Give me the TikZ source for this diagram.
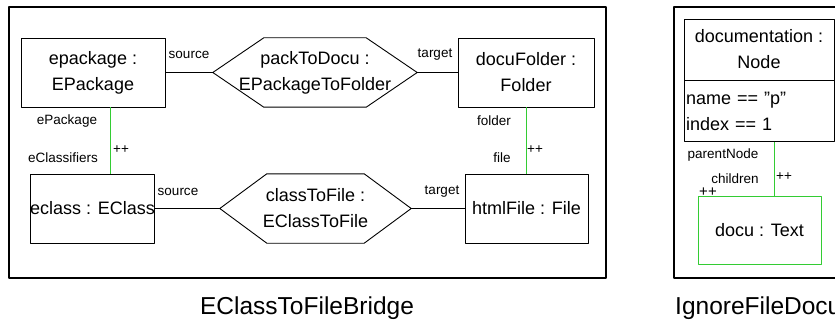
\documentclass[tikz,border=0pt]{standalone}
\usepackage{fontspec}
\setmainfont{Liberation Sans}
\usetikzlibrary{positioning}
\definecolor{linkgreen}{RGB}{51,204,51}
\begin{document}
\begin{tikzpicture}[x=1pt, y=-1pt, line join=round,
	obj/.style={draw, line width=0.9pt, inner sep=0pt, minimum height=69pt, align=center, font=\fontsize{18}{26}\selectfont},
	hexa/.style={inner sep=0pt, minimum height=69pt, align=center, font=\fontsize{18}{26}\selectfont},
	lbl/.style={inner sep=0pt, font=\fontsize{13.5}{15}\selectfont},
	link/.style={draw=linkgreen, line width=1pt},
	rule/.style={draw, line width=1.6pt},
	title/.style={inner sep=0pt, font=\fontsize{24.5}{26}\selectfont}]
	\useasboundingbox (0,0) rectangle (835,326);
	% rule frames
	\draw[rule] (9,7) rectangle (606,278);
	\draw[rule] (674,7) rectangle (870,278);
	% objects
	\node[obj, minimum width=144pt] (epack) at (93,72.5) {epackage :\\EPackage};
	\node[obj, minimum width=136pt] (dfold) at (526,72.5) {docuFolder :\\Folder};
	\node[obj, minimum width=123pt] (eclass) at (92.5,208.5) {eclass : EClass};
	\node[obj, minimum width=123pt] (hfile) at (526.5,208.5) {htmlFile : File};
	\node[hexa, minimum width=204pt] (p2d) at (315,72.5) {packToDocu :\\EPackageToFolder};
	\node[hexa, minimum width=191pt] (c2f) at (315.5,208.5) {classToFile :\\EClassToFile};
	\foreach \h/\d in {p2d/51,c2f/47}
	\draw[line width=0.9pt] (\h.west) -- ([xshift=\d pt]\h.north west) -- ([xshift=-\d pt]\h.north east) -- (\h.east) -- ([xshift=-\d pt]\h.south east) -- ([xshift=\d pt]\h.south west) -- cycle;
	\node[obj, minimum width=150pt, minimum height=61pt] (docnode) at (759,49.5) {documentation :\\Node};
	\node[obj, minimum width=150pt, minimum height=61pt, text width=146pt, align=left, below=0pt of docnode] (docattr) {name == \char34 p\char34\\index == 1};
	\node[obj, draw=linkgreen, minimum width=123pt, minimum height=68pt] (docu) at (759.5,230) {docu : Text};
	% links
	\draw[line width=0.9pt] (epack) -- (p2d) (p2d) -- (dfold) (eclass) -- (c2f) (c2f) -- (hfile);
	\draw[link] ([xshift=17pt]epack.south) -- ([xshift=17pt]epack.south |- eclass.north);
	\draw[link] (dfold.south) -- (dfold.south |- hfile.north);
	\draw[link] ([xshift=15pt]docattr.south) -- ([xshift=15pt]docattr.south |- docu.north);
	% role labels
	\foreach \n/\p/\t in {s1/{189,55}/source, t1/{435,55}/target, s2/{178,192}/source, t2/{442,192}/target,
		r1/{67,121}/ePackage, r2/{63,158}/eClassifiers, m1/{121,150}/++,
		r3/{494,121}/folder, r4/{502,158}/file, m2/{535,150}/++,
		r5/{723,155}/parentNode, r6/{735,179}/children, m3/{784,177}/++}
	\node[lbl] (\n) at (\p) {\t};
	\node[lbl, font=\fontsize{15}{15}\selectfont] (m4) at (708,192) {++};
	% titles
	\node[title] (bridgename) at (307,308) {EClassToFileBridge};
	\node[title, anchor=west] (ignorename) at (675,308) {IgnoreFileDocu};
\end{tikzpicture}
\end{document}
